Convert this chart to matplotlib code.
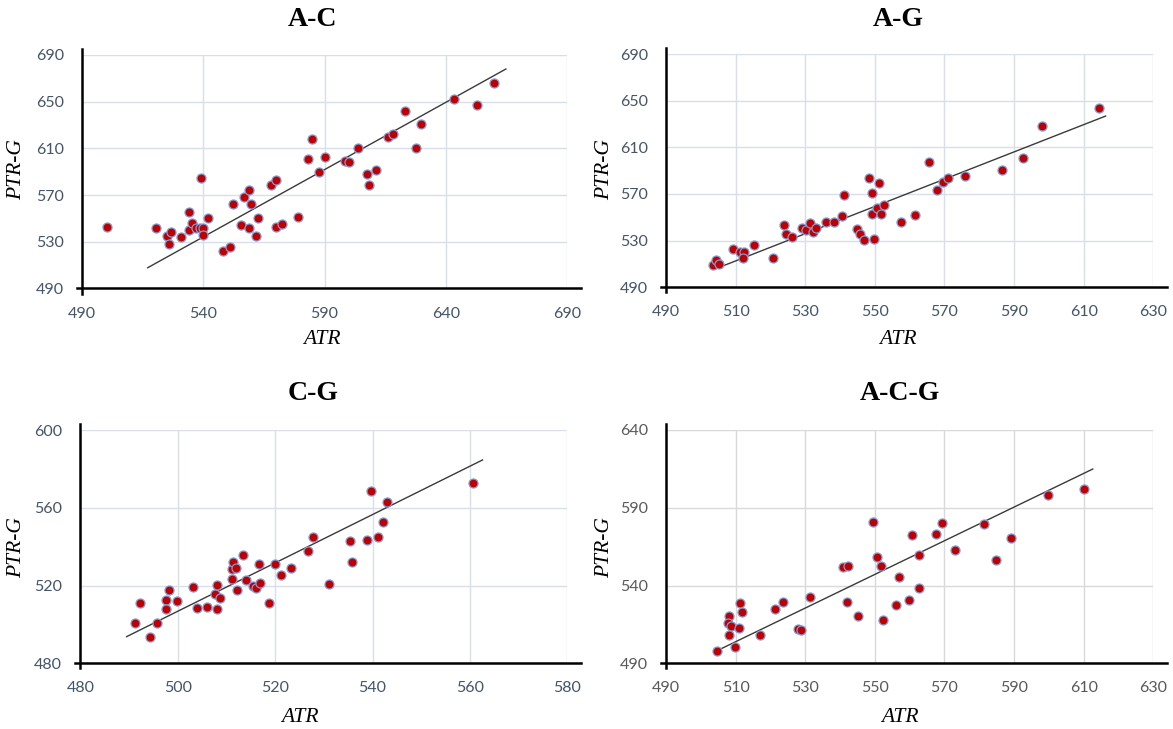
import matplotlib.pyplot as plt
from matplotlib.lines import Line2D

W, H = 1173, 729

# A-C
ac_atr = [500.2, 520.7, 524.9, 526.9, 525.9, 530.7, 534.1, 534.1, 535.3, 536.9,
          538.6, 539.9, 539.7, 539.1, 541.9, 548.1, 551.2, 552.3, 556.8, 558.8,
          559.8, 555.7, 558.8, 561.7, 562.7, 568.1, 570.1, 570.1, 572.3, 579.0,
          583.4, 584.8, 587.7, 590.3, 598.6, 600.3, 603.9, 607.6, 608.2, 611.3,
          616.3, 618.4, 623.2, 627.6, 629.8, 643.2, 652.8, 659.8]
ac_ptr = [542.9, 542.1, 535.0, 538.1, 528.4, 533.8, 555.8, 540.1, 545.8, 542.1,
          542.1, 542.1, 535.6, 584.9, 550.4, 522.4, 525.5, 562.1, 568.4, 574.6,
          562.4, 544.1, 542.1, 535.0, 550.7, 578.6, 582.9, 542.9, 545.2, 551.5,
          600.7, 618.3, 590.0, 602.6, 599.5, 598.1, 610.1, 588.1, 578.6, 591.2,
          620.0, 622.6, 642.3, 610.1, 630.6, 652.6, 647.2, 666.0]
ac_fit_x = [517.1, 664.8]
ac_fit_y = [507.8, 678.0]

# A-G
ag_atr = [503.4, 504.4, 505.1, 509.2, 511.3, 512.4, 512.2, 515.4, 520.7, 524.0,
          524.5, 526.3, 529.0, 530.2, 531.4, 532.2, 533.0, 536.0, 538.3, 540.7,
          541.0, 544.8, 545.6, 546.9, 548.4, 549.1, 549.1, 549.8, 550.7, 551.1,
          551.8, 552.6, 557.4, 561.4, 565.7, 567.9, 569.6, 571.1, 575.9, 586.6,
          592.6, 598.1, 614.5]
ag_ptr = [509.1, 513.7, 509.7, 522.6, 520.5, 520.0, 515.4, 526.0, 515.4, 543.7,
          535.4, 533.1, 540.6, 539.1, 544.9, 537.7, 541.1, 545.7, 545.7, 550.9,
          568.9, 539.7, 535.4, 530.5, 583.4, 570.8, 553.1, 531.4, 557.7, 579.4,
          553.1, 560.3, 545.7, 552.0, 597.7, 573.7, 580.3, 583.4, 585.4, 590.5,
          601.1, 628.3, 643.7]
ag_fit_x = [505.8, 616.3]
ag_fit_y = [507.7, 636.8]

# C-G
cg_atr = [491.2, 492.3, 494.3, 495.7, 497.7, 497.7, 498.3, 499.8, 503.2, 504.0,
          506.0, 507.7, 508.0, 508.0, 508.7, 511.2, 511.2, 511.4, 512.0, 512.2,
          513.5, 514.0, 515.4, 516.0, 516.6, 516.8, 518.8, 520.0, 521.2, 523.2,
          526.8, 527.8, 531.0, 535.4, 535.7, 538.9, 539.6, 541.2, 542.2, 542.9,
          560.6]
cg_ptr = [500.9, 510.9, 493.4, 500.9, 512.6, 507.8, 517.7, 512.2, 519.1, 508.6,
          509.0, 515.6, 520.3, 507.8, 513.4, 523.2, 528.4, 532.3, 529.0, 517.7,
          535.9, 522.7, 519.6, 518.9, 531.1, 521.1, 510.9, 530.9, 525.2, 529.2,
          537.9, 544.9, 520.8, 543.1, 532.1, 543.3, 568.5, 545.1, 552.7, 562.8,
          572.7]
cg_fit_x = [489.5, 562.6]
cg_fit_y = [493.7, 584.6]

# A-C-G
acg_atr = [504.7, 508.2, 507.7, 508.7, 508.2, 509.8, 511.0, 511.3, 511.8, 516.9,
           521.4, 523.5, 528.0, 528.7, 531.4, 540.8, 542.2, 541.9, 545.1, 549.6,
           550.7, 551.8, 552.4, 557.0, 556.0, 559.8, 560.8, 562.6, 562.6, 567.6,
           569.2, 573.1, 581.5, 584.8, 589.1, 599.7, 610.1]
acg_ptr = [498.1, 520.6, 516.1, 513.8, 508.2, 500.3, 512.9, 528.6, 523.2, 508.2,
           524.7, 529.2, 512.2, 511.4, 532.4, 551.9, 552.8, 529.2, 520.6, 580.8,
           558.1, 552.8, 517.6, 545.7, 527.7, 530.9, 572.3, 559.8, 538.6, 573.1,
           580.0, 562.8, 579.4, 556.6, 570.7, 598.2, 602.0]
acg_fit_x = [505.5, 612.6]
acg_fit_y = [499.0, 614.9]

SLATE = '#44546a'
BLUEGRID = '#d9dfe9'


def fx(px):
    return px / W


def fy(py):
    return 1 - py / H


def panel(box, xs, ys, fit_x, fit_y, xlim, ylim, xstep, ystep, title,
          title_xy, ylab_xy, xlab_xy, tick_color=SLATE, grid_color=BLUEGRID):
    left, top, right, bottom = box
    ax = fig.add_axes([fx(left), fy(bottom), fx(right - left), (bottom - top) / H])
    ax.set_xlim(xlim)
    ax.set_ylim(ylim)
    ax.set_xticks(range(xlim[0], xlim[1] + 1, xstep))
    ax.set_yticks(range(ylim[0], ylim[1] + 1, ystep))
    ax.grid(True, color=grid_color, linewidth=1.0)
    ax.set_axisbelow(True)
    for s in ax.spines.values():
        s.set_visible(False)
    ax.tick_params(length=0, labelsize=11.5, labelcolor=tick_color)
    ax.tick_params(axis='x', pad=13)
    ax.tick_params(axis='y', pad=13)
    for lab in ax.get_xticklabels() + ax.get_yticklabels():
        lab.set_fontfamily('Lato')

    ax.plot(fit_x, fit_y, color='#3a3a3a', linewidth=1.0, zorder=2)
    ax.scatter(xs, ys, s=42, color='#c00000', edgecolors='#7f9bd4',
               linewidths=0.9, zorder=3)

    # black axis lines, running a little past the plot area
    fig.add_artist(Line2D([fx(left - 5), fx(right + 14)], [fy(bottom), fy(bottom)],
                          color='black', linewidth=1.8))
    fig.add_artist(Line2D([fx(left), fx(left)], [fy(top - 6), fy(bottom + 5)],
                          color='black', linewidth=1.8))

    fig.text(fx(title_xy[0]), fy(title_xy[1]), title, ha='center', va='center',
             fontsize=20, fontweight='bold', family='Liberation Serif')
    fig.text(fx(ylab_xy[0]), fy(ylab_xy[1]), 'PTR-G', ha='center', va='center',
             rotation=90, fontsize=15.5, style='italic', family='Liberation Serif')
    fig.text(fx(xlab_xy[0]), fy(xlab_xy[1]), 'ATR', ha='center', va='center',
             fontsize=15.5, style='italic', family='Liberation Serif')
    return ax


fig = plt.figure(figsize=(W / 100, H / 100), dpi=100)

panel((82, 55, 567, 288.5), ac_atr, ac_ptr, ac_fit_x, ac_fit_y,
      (490, 690), (490, 690), 50, 40, 'A-C', (312, 20), (17, 170), (322, 340))
panel((666, 54, 1153.3, 287.3), ag_atr, ag_ptr, ag_fit_x, ag_fit_y,
      (490, 630), (490, 690), 20, 40, 'A-G', (898, 20), (605, 170), (898, 340))
panel((80.3, 430, 567.3, 663.3), cg_atr, cg_ptr, cg_fit_x, cg_fit_y,
      (480, 580), (480, 600), 20, 40, 'C-G', (313, 393), (17, 548), (300, 717))
panel((666, 430, 1153.3, 663.3), acg_atr, acg_ptr, acg_fit_x, acg_fit_y,
      (490, 630), (490, 640), 20, 50, 'A-C-G', (900, 393), (605, 548), (900, 717),
      tick_color='#595959', grid_color='#d9d9d9')

plt.savefig('out.png', dpi=100)
